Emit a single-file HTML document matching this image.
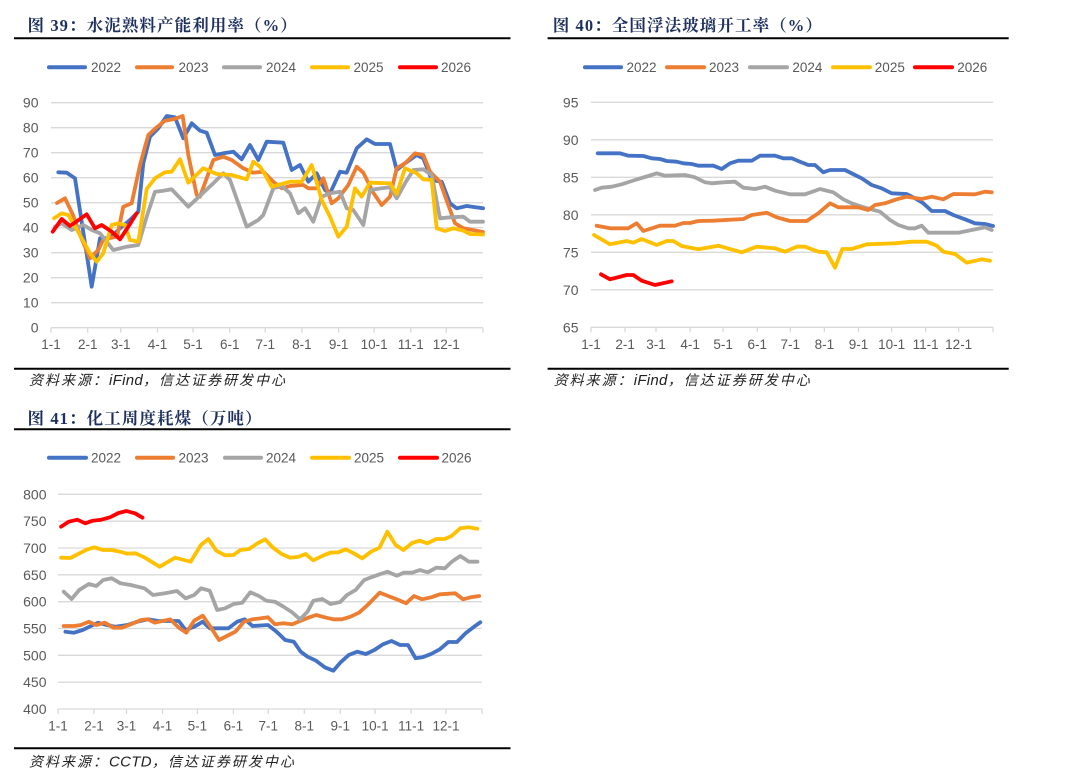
<!DOCTYPE html>
<html><head><meta charset="utf-8"><style>
html,body{margin:0;padding:0;background:#fff;}
svg{display:block;}
.t{font-family:"Liberation Serif","Noto Serif CJK SC",serif;font-weight:bold;font-size:16.5px;fill:#1c2f5e;letter-spacing:1.1px;}
.s{font-family:"Liberation Sans","Noto Sans CJK SC",sans-serif;font-style:italic;font-size:14px;fill:#222;letter-spacing:2px;}
.s .e{font-size:15px;letter-spacing:0.3px;}
.a{font-family:"Liberation Sans",sans-serif;font-size:13.5px;fill:#595959;}
.y{font-family:"Liberation Sans",sans-serif;font-size:14px;fill:#595959;text-anchor:end;}
.x{font-family:"Liberation Sans",sans-serif;font-size:13.5px;fill:#595959;text-anchor:middle;}
.g{stroke:#d9d9d9;stroke-width:1.3;}
.l{fill:none;stroke-width:3.8;stroke-linejoin:round;stroke-linecap:round;}
.lg{stroke-width:4;stroke-linecap:round;}
</style></head><body>
<svg width="1080" height="779" viewBox="0 0 1080 779" xmlns="http://www.w3.org/2000/svg">
<!-- ============ Chart 39 ============ -->
<text class="t" x="27.5" y="31">图 39：水泥熟料产能利用率（%）</text>
<line x1="14" y1="38.3" x2="510.5" y2="38.3" stroke="#000" stroke-width="2"/>
<g>
<line class="lg" x1="49" y1="67.3" x2="85" y2="67.3" stroke="#4472C4"/><text class="a" x="91" y="72">2022</text>
<line class="lg" x1="137" y1="67.3" x2="172" y2="67.3" stroke="#ED7D31"/><text class="a" x="178.5" y="72">2023</text>
<line class="lg" x1="224" y1="67.3" x2="260" y2="67.3" stroke="#A5A5A5"/><text class="a" x="266" y="72">2024</text>
<line class="lg" x1="312" y1="67.3" x2="348" y2="67.3" stroke="#FFC000"/><text class="a" x="353.5" y="72">2025</text>
<line class="lg" x1="400" y1="67.3" x2="436" y2="67.3" stroke="#FF0000"/><text class="a" x="441" y="72">2026</text>
</g>
<g>
<line class="g" x1="51" y1="102.7" x2="483" y2="102.7"/>
<line class="g" x1="51" y1="127.7" x2="483" y2="127.7"/>
<line class="g" x1="51" y1="152.7" x2="483" y2="152.7"/>
<line class="g" x1="51" y1="177.7" x2="483" y2="177.7"/>
<line class="g" x1="51" y1="202.7" x2="483" y2="202.7"/>
<line class="g" x1="51" y1="227.7" x2="483" y2="227.7"/>
<line class="g" x1="51" y1="252.7" x2="483" y2="252.7"/>
<line class="g" x1="51" y1="277.7" x2="483" y2="277.7"/>
<line class="g" x1="51" y1="302.7" x2="483" y2="302.7"/>
<line class="g" x1="51" y1="327.7" x2="483" y2="327.7"/>
<path d="M51 327.7v5M87.7 327.7v5M120.8 327.7v5M157.5 327.7v5M193 327.7v5M229.7 327.7v5M265.2 327.7v5M301.9 327.7v5M338.6 327.7v5M374.1 327.7v5M410.8 327.7v5M446.3 327.7v5M483 327.7v5" stroke="#d9d9d9" stroke-width="1.3"/>
</g>
<g>
<text class="y" x="38.5" y="107.5">90</text>
<text class="y" x="38.5" y="132.5">80</text>
<text class="y" x="38.5" y="157.5">70</text>
<text class="y" x="38.5" y="182.5">60</text>
<text class="y" x="38.5" y="207.5">50</text>
<text class="y" x="38.5" y="232.5">40</text>
<text class="y" x="38.5" y="257.5">30</text>
<text class="y" x="38.5" y="282.5">20</text>
<text class="y" x="38.5" y="307.5">10</text>
<text class="y" x="38.5" y="332.5">0</text>
</g>
<g>
<text class="x" x="51" y="349">1-1</text>
<text class="x" x="87.7" y="349">2-1</text>
<text class="x" x="120.8" y="349">3-1</text>
<text class="x" x="157.5" y="349">4-1</text>
<text class="x" x="193" y="349">5-1</text>
<text class="x" x="229.7" y="349">6-1</text>
<text class="x" x="265.2" y="349">7-1</text>
<text class="x" x="301.9" y="349">8-1</text>
<text class="x" x="338.6" y="349">9-1</text>
<text class="x" x="374.1" y="349">10-1</text>
<text class="x" x="410.8" y="349">11-1</text>
<text class="x" x="446.3" y="349">12-1</text>
</g>
<polyline class="l" stroke="#4472C4" points="58.3,172.3 66.7,172.7 75,178.3 91.7,286.7 100,238.3 106.7,238.3 113.3,235 120,228.3 130,220 138.3,211.7 143.3,163.3 150,136.7 158.3,128.3 166.7,116 175,117.3 183.3,138.3 191.7,123.3 200,130.7 206.7,132.7 215,155 223.3,153.3 233.3,151.7 241.7,159.3 250,145 258.3,160 266.7,141.7 283.3,142.7 291.7,170 300,165 308.3,181.7 316.7,173.3 325,190 330,193.3 340,171.7 346.7,172.7 356.7,148.3 366.7,139.3 375,144 390,144 396.7,170 405,163.3 416.7,155 423.3,158.3 431.7,180 441.7,181.7 450,203.3 456.7,208.3 466.7,206 483,208.3"/>
<polyline class="l" stroke="#ED7D31" points="57,203 65,198.3 73,215 80,235 90,258.3 98.3,250 103,240 110,238 117,236.7 123.3,206.7 131.7,203.3 140,165 148.3,135 156.7,127.3 165,120.7 173.3,119.3 182.7,116 188.3,155 196.7,195 200,196.7 213.3,160 223.3,156.7 231.7,160 243.3,168.3 253.3,172.7 263.3,171.7 273.3,181.7 281.7,188.3 290,186 303.3,185 308.3,188.3 316.7,188.3 323.3,178.3 331.7,203.3 338.3,198.3 348.3,185 356.7,166.7 363.3,172.7 373.3,192.7 381.7,205 390,196.7 396.7,168.3 405,163.3 415,153.3 423.3,155 430,171.7 440,181.7 448.3,205 455,223.3 463.3,228.3 483,232"/>
<polyline class="l" stroke="#A5A5A5" points="55,226.7 61.7,223.3 71.7,230 83.3,225 91.7,230 100,233.3 113.3,250 126.7,246.7 138.3,245 146.7,216.7 155,191.7 163.3,190.7 171.7,189.3 188.3,206.7 203,193 213.3,183.3 223.3,173.3 230,180 246.7,226.7 258.3,220 263.3,215 273.3,188.3 281.7,186 290,193.3 298.3,213.3 305,208.3 313.3,221.7 321.7,196.7 330,193.3 340,191.7 346.7,208.3 353.3,210 363.3,225 370,190 381.7,188.3 390,187.3 396.7,198.3 405,183.3 413.3,170 423.3,169.3 431.7,175 440,218.3 450,217.3 463.3,216.7 470,221.7 483,221.7"/>
<polyline class="l" stroke="#FFC000" points="54,218.3 61.7,213.3 68.3,215 80,235 90,253.3 96.7,261.7 103.3,253.3 111.7,225 118.3,223.3 125,225 130,240 138.3,241.7 146.7,189 155,178.3 165,172.3 171.7,171.7 180,159.3 188.3,182.7 203.3,168.3 216.7,174 231.7,175 246.7,179.3 253.3,161.7 260,166.7 263.3,171.7 271.7,186.7 290,181.7 301.7,181.7 311.7,165 321.7,200 330,216.7 338.3,236.7 346.7,226.7 355,188.3 361.7,196.7 370,182.7 390,183.3 396.7,194 405,168.3 416.7,173.3 423.3,179.3 431.7,180 436.7,228.3 445,231 453.3,228.3 463.3,230.7 470,234 483,234.5"/>
<polyline class="l" stroke="#FF0000" points="52.7,231.7 61.7,219 70,226 86.7,214.3 95,228.3 101.7,225 111.7,231.7 120,239.3 128.3,226.7 136.7,213.3"/>
<line x1="14" y1="368.7" x2="510.5" y2="368.7" stroke="#000" stroke-width="2"/>
<text class="s" x="29" y="385">资料来源：<tspan class="e">iFind</tspan>，信达证券研发中心</text>

<!-- ============ Chart 40 ============ -->
<text class="t" x="552.7" y="31">图 40：全国浮法玻璃开工率（%）</text>
<line x1="547.6" y1="38.3" x2="1008.7" y2="38.3" stroke="#000" stroke-width="2"/>
<g>
<line class="lg" x1="585" y1="67.3" x2="621" y2="67.3" stroke="#4472C4"/><text class="a" x="626.5" y="72">2022</text>
<line class="lg" x1="667" y1="67.3" x2="704" y2="67.3" stroke="#ED7D31"/><text class="a" x="709" y="72">2023</text>
<line class="lg" x1="750" y1="67.3" x2="787" y2="67.3" stroke="#A5A5A5"/><text class="a" x="792.4" y="72">2024</text>
<line class="lg" x1="833" y1="67.3" x2="870" y2="67.3" stroke="#FFC000"/><text class="a" x="874.8" y="72">2025</text>
<line class="lg" x1="915" y1="67.3" x2="952" y2="67.3" stroke="#FF0000"/><text class="a" x="957.2" y="72">2026</text>
</g>
<g>
<line class="g" x1="591" y1="102.3" x2="993" y2="102.3"/>
<line class="g" x1="591" y1="139.8" x2="993" y2="139.8"/>
<line class="g" x1="591" y1="177.3" x2="993" y2="177.3"/>
<line class="g" x1="591" y1="214.8" x2="993" y2="214.8"/>
<line class="g" x1="591" y1="252.3" x2="993" y2="252.3"/>
<line class="g" x1="591" y1="289.8" x2="993" y2="289.8"/>
<line class="g" x1="591" y1="327.3" x2="993" y2="327.3"/>
<path d="M591 327.3v5M625.1 327.3v5M656 327.3v5M690.1 327.3v5M723.1 327.3v5M757.3 327.3v5M790.3 327.3v5M824.4 327.3v5M858.5 327.3v5M891.6 327.3v5M925.7 327.3v5M958.7 327.3v5M993 327.3v5" stroke="#d9d9d9" stroke-width="1.3"/>
</g>
<g>
<text class="y" x="578.5" y="107.3">95</text>
<text class="y" x="578.5" y="144.8">90</text>
<text class="y" x="578.5" y="182.3">85</text>
<text class="y" x="578.5" y="219.8">80</text>
<text class="y" x="578.5" y="257.3">75</text>
<text class="y" x="578.5" y="294.8">70</text>
<text class="y" x="578.5" y="332.3">65</text>
</g>
<g>
<text class="x" x="591" y="349">1-1</text>
<text class="x" x="625.1" y="349">2-1</text>
<text class="x" x="656" y="349">3-1</text>
<text class="x" x="690.1" y="349">4-1</text>
<text class="x" x="723.1" y="349">5-1</text>
<text class="x" x="757.3" y="349">6-1</text>
<text class="x" x="790.3" y="349">7-1</text>
<text class="x" x="824.4" y="349">8-1</text>
<text class="x" x="858.5" y="349">9-1</text>
<text class="x" x="891.6" y="349">10-1</text>
<text class="x" x="925.7" y="349">11-1</text>
<text class="x" x="958.7" y="349">12-1</text>
</g>
<polyline class="l" stroke="#4472C4" points="597.7,153.3 620,153.3 628.3,155.7 643.3,156 651.7,158.3 660,159 666.7,161 676.7,161.7 683.3,163.3 691.7,164 698.3,165.7 713.3,165.7 721.7,169 730,163.3 738.3,160.7 751.7,160.7 760,155.7 775,155.7 783.3,158.3 791.7,158.3 800,161.7 808.3,165 815,165 823.3,172.3 830,170 845,170 855,175 861.7,178.3 871.7,185 881.7,188.3 891.7,193.3 906.7,194 915,198.3 923.3,203.3 931.7,211 945,211 953.3,215 965,219.3 975,223.3 985,224 993,226"/>
<polyline class="l" stroke="#A5A5A5" points="595,190 601.7,187.7 611.7,186.7 621.7,184.3 635,180 648.3,176 656.7,173.3 665,175.7 685,175 695,177.3 705,182.3 711.7,183.3 723.3,182.3 735,181.7 743.3,187.7 755,189 765,186.7 775,190.7 790,194.3 805,194.3 820,189 833.3,192.3 843.3,199.3 851.7,203.3 861.7,206.7 880,211.7 890,220 898.3,225 908.3,228.3 915,228.3 921.7,225.7 928.3,232.7 958.3,232.7 971.7,230 985,227.3 991.7,230"/>
<polyline class="l" stroke="#ED7D31" points="596.7,225.7 610,228.3 628.3,228.3 636.7,223.3 643.3,231 660,225.7 675,225.7 683.3,223 690,223 698.3,221 713.3,220.7 743.3,219 751.7,215 766.7,212.7 776.7,217.3 790,221 806.7,221 818.3,213.3 830,203.3 838.3,207.3 858.3,207.3 868.3,210 875,205 885,203.3 896.7,199.3 906.7,196.7 921.7,199 931.7,196.7 943.3,199.3 953.3,194 975,194.3 985,191.7 991.7,192.3"/>
<polyline class="l" stroke="#FFC000" points="594,235 610,244.3 626.7,241 633.3,242.7 641.7,239 656.7,245 666.7,241 673.3,241 681.7,246 698.3,249.3 718.3,245.7 741.7,252.3 756.7,246.7 775,248.3 785,251.7 796.7,246.7 805,246.7 818.3,251.7 826.7,252.3 835,267.7 842.3,249 851.7,249 866.7,244.3 895,243.3 911.7,241.7 926.7,241.7 936.7,245.7 943.3,251.7 955,254 966.7,262.7 981.7,259.3 990,260.7"/>
<polyline class="l" stroke="#FF0000" points="601,274.3 610,279.3 626.7,275 633.3,275 641.7,280.7 655,285 671.7,281.3"/>
<line x1="547.6" y1="368.7" x2="1008.7" y2="368.7" stroke="#000" stroke-width="2"/>
<text class="s" x="553.7" y="385">资料来源：<tspan class="e">iFind</tspan>，信达证券研发中心</text>

<!-- ============ Chart 41 ============ -->
<text class="t" x="27.5" y="424">图 41：化工周度耗煤（万吨）</text>
<line x1="14" y1="429.3" x2="510.5" y2="429.3" stroke="#000" stroke-width="2"/>
<g>
<line class="lg" x1="49" y1="457.7" x2="86" y2="457.7" stroke="#4472C4"/><text class="a" x="91" y="462.5">2022</text>
<line class="lg" x1="137" y1="457.7" x2="173" y2="457.7" stroke="#ED7D31"/><text class="a" x="178.5" y="462.5">2023</text>
<line class="lg" x1="225" y1="457.7" x2="261" y2="457.7" stroke="#A5A5A5"/><text class="a" x="266" y="462.5">2024</text>
<line class="lg" x1="312" y1="457.7" x2="349" y2="457.7" stroke="#FFC000"/><text class="a" x="354" y="462.5">2025</text>
<line class="lg" x1="400" y1="457.7" x2="437" y2="457.7" stroke="#FF0000"/><text class="a" x="441.5" y="462.5">2026</text>
</g>
<g>
<line class="g" x1="58" y1="494.3" x2="482" y2="494.3"/>
<line class="g" x1="58" y1="521.2" x2="482" y2="521.2"/>
<line class="g" x1="58" y1="548" x2="482" y2="548"/>
<line class="g" x1="58" y1="574.8" x2="482" y2="574.8"/>
<line class="g" x1="58" y1="601.7" x2="482" y2="601.7"/>
<line class="g" x1="58" y1="628.5" x2="482" y2="628.5"/>
<line class="g" x1="58" y1="655.3" x2="482" y2="655.3"/>
<line class="g" x1="58" y1="682.2" x2="482" y2="682.2"/>
<line class="g" x1="58" y1="709" x2="482" y2="709"/>
<path d="M58 709v5M94 709v5M126.5 709v5M162.5 709v5M197.4 709v5M233.4 709v5M268.3 709v5M304.3 709v5M340.3 709v5M375.1 709v5M411.1 709v5M446 709v5M482 709v5" stroke="#d9d9d9" stroke-width="1.3"/>
</g>
<g>
<text class="y" x="46.5" y="499.3">800</text>
<text class="y" x="46.5" y="526.2">750</text>
<text class="y" x="46.5" y="553">700</text>
<text class="y" x="46.5" y="579.8">650</text>
<text class="y" x="46.5" y="606.7">600</text>
<text class="y" x="46.5" y="633.5">550</text>
<text class="y" x="46.5" y="660.3">500</text>
<text class="y" x="46.5" y="687.2">450</text>
<text class="y" x="46.5" y="714">400</text>
</g>
<g>
<text class="x" x="58" y="730.5">1-1</text>
<text class="x" x="94" y="730.5">2-1</text>
<text class="x" x="126.5" y="730.5">3-1</text>
<text class="x" x="162.5" y="730.5">4-1</text>
<text class="x" x="197.4" y="730.5">5-1</text>
<text class="x" x="233.4" y="730.5">6-1</text>
<text class="x" x="268.3" y="730.5">7-1</text>
<text class="x" x="304.3" y="730.5">8-1</text>
<text class="x" x="340.3" y="730.5">9-1</text>
<text class="x" x="375.1" y="730.5">10-1</text>
<text class="x" x="411.1" y="730.5">11-1</text>
<text class="x" x="446" y="730.5">12-1</text>
</g>
<polyline class="l" stroke="#4472C4" points="65.4,631.7 74,632.7 82.6,630 89.5,626.7 98,622.7 106.7,625 115.2,626.7 127.3,625 137.6,621.7 147.9,619.3 158.2,621 178.8,621 185.6,630 194.2,626.7 202.8,621.7 209.7,628.3 228.5,628.3 237.1,621.7 244.7,619.3 252.6,626 268,625 276.6,631.7 285.2,640 293.8,641.7 300.7,651.7 307.5,656.7 316.1,660.7 324.7,667.3 333.3,670.7 340.2,662.7 348.7,655 357.3,651.7 365.9,654 374.4,650 382.9,644.3 391.5,641 400.1,645 408,645 415.6,658.3 422.4,657.3 431,654 439.8,649.3 448.3,642 456.9,642 465.5,633.3 474.1,626.7 480.3,622.3"/>
<polyline class="l" stroke="#ED7D31" points="63.7,626 74,626 80.9,625 88.8,621.7 96.4,625 104.9,622.7 113.5,627.7 122.1,627.7 130.7,624.3 141,620 147.9,619.3 154.7,622.7 170.2,619.3 178.8,627.7 186.3,632.7 194.2,620.7 202.8,615.7 210.4,626.7 219,640 226.8,636 235.4,631.7 244,621.7 252.6,619.3 261.2,618.3 268,617.3 274.9,624.3 283.5,623.3 292.1,624.3 300.7,620.7 309.3,617.3 316.1,615 324.7,617.3 333.3,619.3 341.9,619.3 350.5,616.7 359,612.7 367.6,605 379.7,592.7 388.2,596 398.5,600 406.1,603.3 414,596 421.9,599.3 431.2,597.3 439.8,594.3 455.2,593.3 463.1,599.3 470.7,597.3 479.2,596"/>
<polyline class="l" stroke="#A5A5A5" points="63.7,591.7 71.6,599 79.2,590 88.8,584 96.4,586 103.2,580 111.8,578.3 120.4,583.3 130.7,585 144.4,588.3 153,595 165,593.3 177,591 185.6,598.3 194.2,595 201.1,588.3 209.7,590.7 217.2,610 225.1,608.3 233.7,604 242.3,602.7 250.2,592.3 258.4,595.7 266.3,600.7 274.9,601.7 283.5,606.7 292.1,612.3 300,619.3 307.5,611.7 313.4,600.7 322.3,599 330.5,604 340.2,602 347,595 355.6,590 364.2,580 372.8,576.7 379.7,574.3 387.6,571.7 396.8,575.7 403.7,572.7 412.3,572.7 419.8,570 427.7,572.3 436.3,567.7 444.9,568.3 451.8,561.7 460.3,556 468.9,561.7 477.5,561.7"/>
<polyline class="l" stroke="#FFC000" points="61.1,557.7 70.4,558 80.7,552.7 87.6,549.3 94.4,547.3 103,550 111.6,550 120.2,551.7 127,553.7 135.6,553.3 144.2,557.3 159.7,566.7 175.1,557.7 190.6,561.7 200.9,545 208.4,539 216.3,550.7 224.9,555.3 233.5,555 240.4,550 249,549 257.5,543.3 265.1,539.3 273,547.7 281.6,554 290.2,557.7 298.8,556.7 305.6,554 313.2,560.3 322.8,555.7 330.3,552.7 338.2,552.3 345.8,549.3 353.7,553.3 362.3,558.3 371,551.7 379.5,547.7 387.4,531.7 395.6,545 403.5,550 412.1,543 419.6,540.7 427.5,543.3 436.1,539 444.7,539 451.6,536 460.2,528.3 468.7,527.3 477.3,528.7"/>
<polyline class="l" stroke="#FF0000" points="61.1,526.7 68.7,521.7 77.3,519.7 85.2,523.3 92.7,520.7 101.3,519.7 110,517.3 118.5,513 126.4,511 135,513.3 142.5,517.7"/>
<line x1="14" y1="748.3" x2="510.5" y2="748.3" stroke="#000" stroke-width="2"/>
<text class="s" x="29" y="766.5">资料来源：<tspan class="e">CCTD</tspan>，信达证券研发中心</text>
</svg>
</body></html>
